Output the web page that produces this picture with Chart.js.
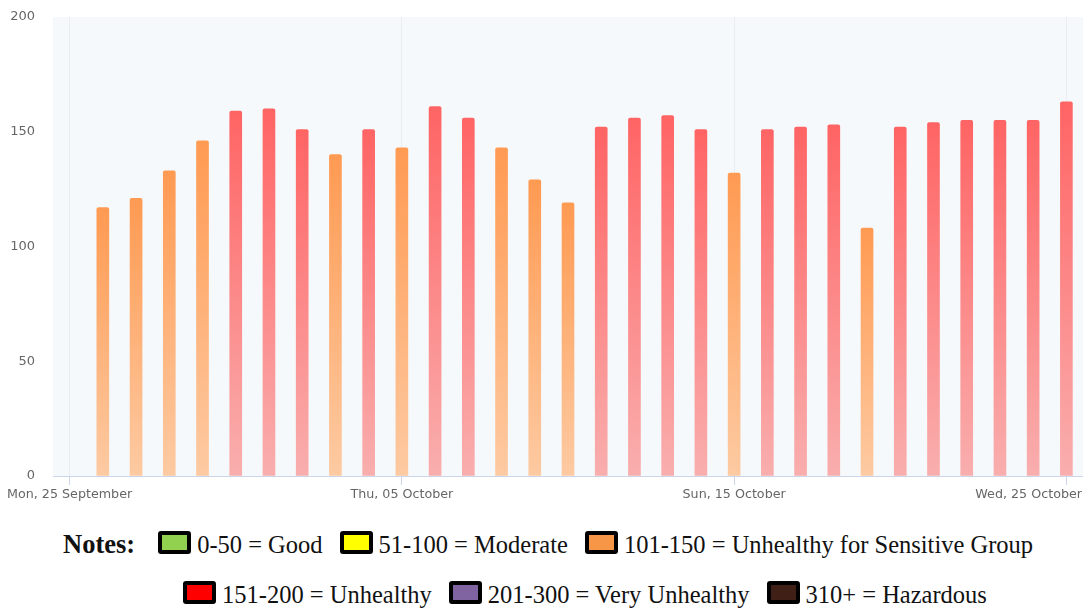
<!DOCTYPE html>
<html>
<head>
<meta charset="utf-8">
<script src="https://cdn.jsdelivr.net/npm/chart.js@4.4.0/dist/chart.umd.min.js"></script>
<style>
  body { margin: 0; background: #fff; }
  #wrap { position: absolute; left: 0; top: 0; width: 1083px; height: 510px; }
  .row { position: absolute; width: 1040px; white-space: nowrap; line-height: 28px;
         font-family: "Liberation Serif", "Times New Roman", serif; font-size: 24.5px; color: #111; }
  .row b { font-size: 26.5px; margin-right: 23px; }
  .sw { display: inline-block; width: 25px; height: 15px; border: 4px solid #000; border-radius: 3px;
        vertical-align: -1px; margin-right: 6px; }
  .item { margin-right: 17px; }
</style>
</head>
<body>
<div id="wrap"><canvas id="aqiChart"></canvas></div>
<div class="row" id="notes1" style="left:63px; top:530px;"></div>
<div class="row" id="notes2" style="left:183px; top:581px;"></div>
<script>
// daily dates (first day has no reading)
const dates = [
  "2023-09-25", "2023-09-26", "2023-09-27", "2023-09-28", "2023-09-29", "2023-09-30",
  "2023-10-01", "2023-10-02", "2023-10-03", "2023-10-04", "2023-10-05", "2023-10-06",
  "2023-10-07", "2023-10-08", "2023-10-09", "2023-10-10", "2023-10-11", "2023-10-12",
  "2023-10-13", "2023-10-14", "2023-10-15", "2023-10-16", "2023-10-17", "2023-10-18",
  "2023-10-19", "2023-10-20", "2023-10-21", "2023-10-22", "2023-10-23", "2023-10-24",
  "2023-10-25"
];
const aqi = [
  null, 117, 121, 133, 146, 159, 160, 151, 140, 151, 143, 161, 156, 143, 129, 119,
  152, 156, 157, 151, 132, 151, 152, 153, 108, 152, 154, 155, 155, 155, 163
];
const tickDates = ["2023-09-25", "2023-10-05", "2023-10-15", "2023-10-25"];
const tickLabels = ["Mon, 25 September", "Thu, 05 October", "Sun, 15 October", "Wed, 25 October"];
const yTicks = [0, 50, 100, 150, 200];

const legendRow1 = [
  ["#92d050", "0-50 = Good"],
  ["#ffff00", "51-100 = Moderate"],
  ["#f79646", "101-150 = Unhealthy for Sensitive Group"]
];
const legendRow2 = [
  ["#ff0000", "151-200 = Unhealthy"],
  ["#8064a2", "201-300 = Very Unhealthy"],
  ["#3f1f16", "310+ = Hazardous"]
];

function fillRow(el, items, withTitle) {
  let html = withTitle ? "<b>Notes:</b>" : "";
  items.forEach(function (it) {
    html += '<span class="item"><span class="sw" style="background:' + it[0] + '"></span>' + it[1] + "</span>";
  });
  el.innerHTML = html;
}
fillRow(document.getElementById("notes1"), legendRow1, true);
fillRow(document.getElementById("notes2"), legendRow2, false);

function barFill(context) {
  const chart = context.chart;
  const area = chart.chartArea;
  const v = context.raw;
  const red = v > 150;
  const topColor = red ? "#ff6464" : "#ff9a52";
  const bottomColor = red ? "#f9aeae" : "#fdcaa2";
  if (!area || v == null) return topColor;
  const y = chart.scales.y.getPixelForValue(v);
  const g = chart.ctx.createLinearGradient(0, y, 0, area.bottom);
  g.addColorStop(0, topColor);
  g.addColorStop(1, bottomColor);
  return g;
}

const tickIdx = tickDates.map(d => dates.indexOf(d));

const plotBg = {
  id: "plotBg",
  beforeDraw(chart) {
    const a = chart.chartArea;
    const ctx = chart.ctx;
    ctx.save();
    ctx.fillStyle = "#f6f9fb";
    ctx.fillRect(a.left, a.top, a.right - a.left, a.bottom - a.top);
    ctx.restore();
  }
};

// x labels drawn at the scale's tick positions, kept inside the canvas
const dateLabels = {
  id: "dateLabels",
  afterDraw(chart) {
    const ctx = chart.ctx;
    const x = chart.scales.x;
    ctx.save();
    ctx.font = "12.7px 'DejaVu Sans'";
    ctx.fillStyle = "#666";
    ctx.textBaseline = "middle";
    tickIdx.forEach(function (idx, i) {
      const px = x.getPixelForValue(idx);
      const w = ctx.measureText(tickLabels[i]).width;
      let left = px - w / 2;
      if (left + w > chart.width - 1) left = chart.width - 1 - w;
      if (left < 2) left = 2;
      ctx.fillText(tickLabels[i], left, x.top + 19);
    });
    ctx.restore();
  }
};

new Chart(document.getElementById("aqiChart"), {
  type: "bar",
  data: {
    labels: dates,
    datasets: [{
      data: aqi,
      backgroundColor: barFill,
      barThickness: 12,
      borderRadius: { topLeft: 2, topRight: 2 },
      borderSkipped: "bottom"
    }]
  },
  options: {
    responsive: true,
    maintainAspectRatio: false,
    animation: false,
    layout: { padding: { top: 17, right: 0, left: 0, bottom: 0 } },
    plugins: { legend: { display: false }, tooltip: { enabled: false } },
    scales: {
      x: {
        offset: true,
        grid: {
          offset: false,
          color: c => tickIdx.includes(c.index) ? "#e8edf3" : "rgba(0,0,0,0)",
          tickColor: c => tickIdx.includes(c.index) ? "#ccd6eb" : "rgba(0,0,0,0)",
          tickLength: 9
        },
        border: { color: "#ccd6eb", width: 1 },
        ticks: { display: false, autoSkip: false },
        afterFit: s => { s.height = 34; }
      },
      y: {
        min: 0,
        max: 200,
        afterBuildTicks: s => { s.ticks = yTicks.map(v => ({ value: v })); },
        grid: { color: "rgba(0,0,0,0)", drawOnChartArea: false, drawTicks: true, tickLength: 15 },
        border: { display: false },
        ticks: { color: "#666", padding: 3, font: { family: "DejaVu Sans", size: 13 } },
        afterFit: s => { s.width = 53; }
      }
    }
  },
  plugins: [plotBg, dateLabels]
});
</script>
</body>
</html>
